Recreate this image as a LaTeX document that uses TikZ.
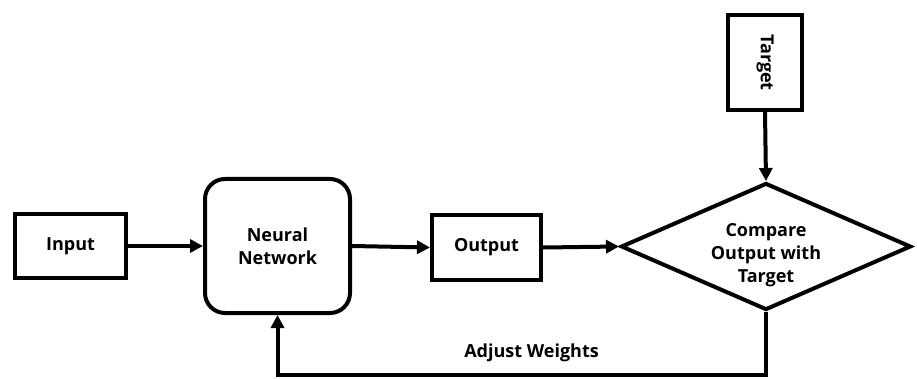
\documentclass[tikz,border=0pt]{standalone}
\usepackage{fontspec}
\setmainfont{Open Sans}
\usepackage{graphicx}
\usetikzlibrary{shapes.geometric}
\usetikzlibrary{arrows.meta}

\begin{document}
\begin{tikzpicture}[x=1pt,y=-1pt,
  lbl/.style={align=center,font=\bfseries\fontsize{18}{23}\selectfont},
  box/.style={lbl,draw,line width=4pt,inner sep=0pt},
  link/.style={line width=4pt,-{Triangle[length=13pt,width=13pt]}}]
\useasboundingbox (0,0) rectangle (917,379);
\node[box,minimum width=111pt,minimum height=64pt] (inp) at (70.5,246) {Input};
\node[box,rounded corners=20pt,minimum width=145pt,minimum height=134pt] (nn) at (277.5,246) {Neural\\Network};
\node[box,minimum width=109pt,minimum height=65pt] (out) at (486.5,247.5) {Output};
\node[box,diamond,minimum width=290pt,minimum height=127pt] (cmp) at (766,246.5) {};
\node[lbl] (cmptxt) at (766,255.5) {Compare\\Output with\\Target};
\node[box,minimum width=74pt,minimum height=95pt] (tgt) at (765,62.5) {\rotatebox{-90}{Target}};
\draw[link] (inp.east) -- (nn.west);
\draw[link] (nn.east) -- (out.west);
\draw[link] (out.east) -- (cmp.west);
\draw[link] (tgt.south) -- (cmp.north);
\draw[link] (cmp.south) -- ++(0,62.5) -| (nn.south) node[lbl,pos=0.24,above=7pt] {Adjust Weights};
\end{tikzpicture}
\end{document}
